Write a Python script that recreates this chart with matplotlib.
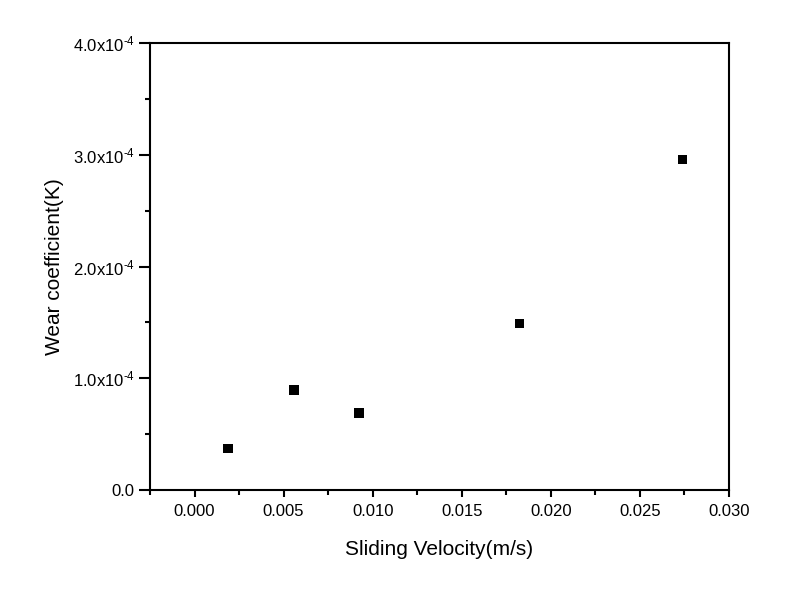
import matplotlib
matplotlib.use("Agg")
import matplotlib.pyplot as plt
from matplotlib.ticker import MultipleLocator

plt.rcParams['font.family'] = ['Liberation Sans', 'DejaVu Sans']
plt.rcParams['mathtext.fontset'] = 'custom'
plt.rcParams['mathtext.rm'] = 'Liberation Sans'
plt.rcParams['mathtext.it'] = 'Liberation Sans'
plt.rcParams['mathtext.default'] = 'regular'

velocity = [0.00187, 0.00558, 0.00923, 0.01824, 0.02738]
wear_k = [0.374e-4, 0.894e-4, 0.688e-4, 1.489e-4, 2.957e-4]
x_ticks = [0.000, 0.005, 0.010, 0.015, 0.020, 0.025, 0.030]
x_tick_labels = ["0.000", "0.005", "0.010", "0.015", "0.020", "0.025", "0.030"]
y_ticks = [0.0, 1.0e-4, 2.0e-4, 3.0e-4, 4.0e-4]
y_tick_labels = ["0.0", "1.0x10$^{\u20104}$", "2.0x10$^{\u20104}$", "3.0x10$^{\u20104}$", "4.0x10$^{\u20104}$"]

fig = plt.figure(figsize=(8.03, 6.0), dpi=100)
ax = fig.add_axes([150/803, 1-490/600, (729-150)/803, (490-43)/600])
ax.scatter(velocity, wear_k, marker='s', s=45, color='black', edgecolors='none', zorder=3)

ax.set_xlim(-0.0025, 0.030)
ax.set_ylim(0.0, 4.0e-4)
ax.set_xticks(x_ticks)
ax.set_xticklabels(x_tick_labels)
ax.set_yticks(y_ticks)
ax.set_yticklabels(y_tick_labels)
ax.xaxis.set_minor_locator(MultipleLocator(0.0025))
ax.yaxis.set_minor_locator(MultipleLocator(0.5e-4))

for s in ax.spines.values():
    s.set_linewidth(1.5)
ax.tick_params(axis='both', which='major', direction='out', width=1.5, labelsize=12, colors='black')
ax.tick_params(axis='x', which='major', length=5, pad=5)
ax.tick_params(axis='y', which='major', length=8, pad=3)
ax.tick_params(axis='both', which='minor', direction='out', width=1.5, length=3.5)
ax.tick_params(top=False, right=False, which='both')

ax.set_xlabel("Sliding Velocity(m/s)", fontsize=15, labelpad=15)
ax.set_ylabel("Wear coefficient(K)", fontsize=15, labelpad=6)

fig.savefig("out.png", dpi=100)
